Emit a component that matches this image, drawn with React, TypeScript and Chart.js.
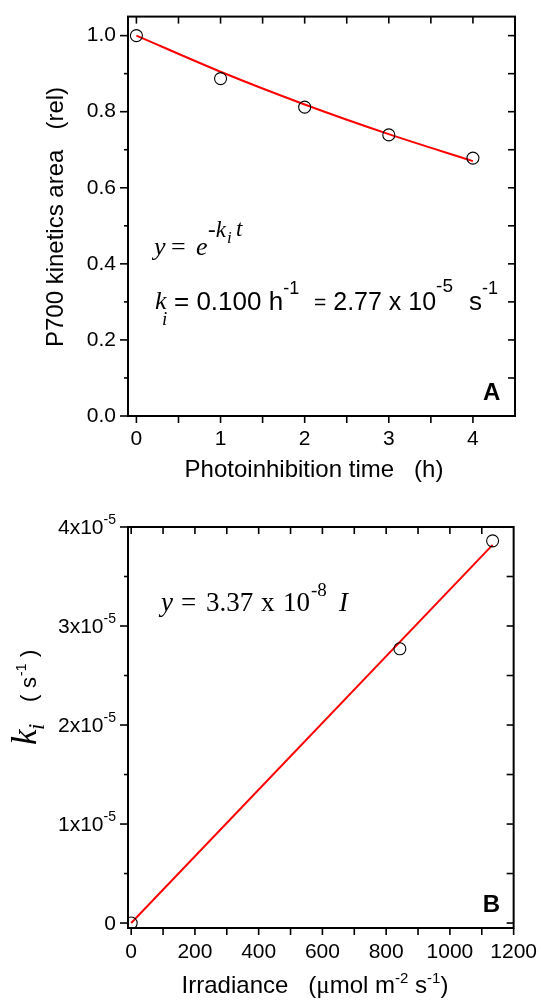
import React, { useEffect, useRef } from "react";
import { Chart, registerables } from "chart.js";

Chart.register(...registerables);

// ---------- Panel A data ----------
const timeHours = [0, 1, 2, 3, 4];
const p700Area = [1.0, 0.887, 0.812, 0.739, 0.678];
const fitTimeHours = [0, 1, 2, 3, 4];
const fitP700Area = [1.0, 0.905, 0.819, 0.741, 0.67];
const timeTicks = [0, 1, 2, 3, 4];
const timeMinorTicks = [0.5, 1.5, 2.5, 3.5];
const timeTopTicks = [0, 0.5, 1, 1.5, 2, 2.5, 3, 3.5, 4];
const areaTicks = [0, 0.2, 0.4, 0.6, 0.8, 1.0];
const areaMinorTicks = [0.1, 0.3, 0.5, 0.7, 0.9];
const areaRightTicks = [0.1, 0.2, 0.3, 0.4, 0.5, 0.6, 0.7, 0.8, 0.9, 1.0];

// ---------- Panel B data ----------
const irradiance = [0, 843, 1134];
const kiValues = [0, 2.77e-5, 3.86e-5];
const fitIrradiance = [0, 1134];
const fitKi = [0, 3.82e-5];
const irradianceTicks = [0, 200, 400, 600, 800, 1000, 1200];
const irradianceMinorTicks = [100, 300, 500, 700, 900, 1100];
const irradianceTopTicks = [0, 100, 200, 300, 400, 500, 600, 700, 800, 900, 1000, 1100];
const kiTicks = [0, 1e-5, 2e-5, 3e-5, 4e-5];
const kiTickMantissas = ["0", "1x10", "2x10", "3x10", "4x10"];
const kiTickExponents = ["", "-5", "-5", "-5", "-5"];
const kiMinorTicks = [0.5e-5, 1.5e-5, 2.5e-5, 3.5e-5];
const kiRightTicks = [0, 0.5e-5, 1e-5, 1.5e-5, 2e-5, 2.5e-5, 3e-5, 3.5e-5];

const SANS = '"Liberation Sans", Arial, sans-serif';
const SERIF = '"Liberation Serif", "Times New Roman", serif';
const sans = (s: number, w = "") => `${w} ${s}px ${SANS}`.trim();
const serif = (s: number, st = "") => `${st} ${s}px ${SERIF}`.trim();

type Seg = { t: string; f: string; x: number; y: number };
type Run = { t: string; f: string; dy: number; gap?: boolean };

function drawSegs(ctx: CanvasRenderingContext2D, segs: Seg[]) {
  ctx.fillStyle = "#000";
  ctx.textAlign = "left";
  ctx.textBaseline = "alphabetic";
  for (const s of segs) {
    ctx.font = s.f;
    ctx.fillText(s.t, s.x, s.y);
  }
}

function runsWidth(ctx: CanvasRenderingContext2D, runs: Run[]) {
  let w = 0;
  for (const r of runs) {
    ctx.font = r.f;
    w += ctx.measureText(r.t).width;
  }
  return w;
}

// draws runs between x0 and x1, spreading leftover room over runs flagged with gap
function drawRuns(ctx: CanvasRenderingContext2D, runs: Run[], x0: number, y: number, x1?: number) {
  ctx.fillStyle = "#000";
  ctx.textAlign = "left";
  ctx.textBaseline = "alphabetic";
  const nat = runsWidth(ctx, runs);
  const gaps = runs.filter((r) => r.gap).length;
  const extra = x1 !== undefined && gaps > 0 ? Math.max(0, (x1 - x0 - nat) / gaps) : 0;
  let cx = x0;
  for (const r of runs) {
    ctx.font = r.f;
    ctx.fillText(r.t, cx, y + r.dy);
    cx += ctx.measureText(r.t).width + (r.gap ? extra : 0);
  }
}

type FrameSpec = {
  xMajor: number[];
  xMinor: number[];
  xTop: number[];
  yMajor: number[];
  yMinor: number[];
  yRight: number[];
};

function drawFrame(chart: any, spec: FrameSpec) {
  const { ctx, chartArea: a, scales } = chart;
  const xs = scales.x;
  const ys = scales.y;
  ctx.save();
  ctx.strokeStyle = "#000";
  ctx.lineWidth = 1.6;
  const line = (x1: number, y1: number, x2: number, y2: number) => {
    ctx.beginPath();
    ctx.moveTo(x1, y1);
    ctx.lineTo(x2, y2);
    ctx.stroke();
  };
  for (const v of spec.xMajor) {
    const p = xs.getPixelForValue(v);
    line(p, a.bottom, p, a.bottom + 7);
  }
  for (const v of spec.xMinor) {
    const p = xs.getPixelForValue(v);
    line(p, a.bottom, p, a.bottom + 7);
  }
  for (const v of spec.xTop) {
    const p = xs.getPixelForValue(v);
    line(p, a.top, p, a.top + 7);
  }
  for (const v of spec.yMajor) {
    const p = ys.getPixelForValue(v);
    line(a.left - 8, p, a.left, p);
  }
  for (const v of spec.yMinor) {
    const p = ys.getPixelForValue(v);
    line(a.left - 4, p, a.left, p);
  }
  for (const v of spec.yRight) {
    const p = ys.getPixelForValue(v);
    line(a.right - 7, p, a.right, p);
  }
  ctx.lineWidth = 2;
  ctx.strokeRect(a.left, a.top, a.right - a.left, a.bottom - a.top);
  ctx.restore();
}

const tickFont = { family: SANS, size: 21 };

function configA(): any {
  return {
    type: "scatter",
    data: {
      datasets: [
        {
          label: "P700 kinetics area",
          data: timeHours.map((x, i) => ({ x, y: p700Area[i] })),
          showLine: false,
          pointRadius: 6,
          pointBorderColor: "#000",
          pointBackgroundColor: "rgba(0,0,0,0)",
          pointBorderWidth: 1.1,
        },
        {
          label: "fit",
          data: fitTimeHours.map((x, i) => ({ x, y: fitP700Area[i] })),
          showLine: true,
          borderColor: "#ff0000",
          borderWidth: 2,
          pointRadius: 0,
          cubicInterpolationMode: "monotone",
          fill: false,
        },
      ],
    },
    options: {
      responsive: false,
      animation: false,
      layout: { padding: { top: 14, right: 26, left: 0, bottom: 0 } },
      plugins: { legend: { display: false }, tooltip: { enabled: false }, title: { display: false } },
      scales: {
        x: {
          type: "linear",
          min: -0.1,
          max: 4.5,
          grid: { display: false },
          border: { display: false },
          afterBuildTicks: (s: any) => {
            s.ticks = timeTicks.map((v) => ({ value: v }));
          },
          afterFit: (s: any) => {
            s.height = 84;
          },
          ticks: { color: "#000", font: tickFont, padding: 3, maxRotation: 0, autoSkip: false, callback: (v: any) => String(v) },
        },
        y: {
          type: "linear",
          min: 0,
          max: 1.05,
          grid: { display: false },
          border: { display: false },
          afterBuildTicks: (s: any) => {
            s.ticks = areaTicks.map((v) => ({ value: v }));
          },
          afterFit: (s: any) => {
            s.width = 128;
          },
          ticks: { color: "#000", font: tickFont, padding: 4, autoSkip: false, callback: (v: any) => Number(v).toFixed(1) },
        },
      },
    },
    plugins: [
      {
        id: "decorA",
        afterDraw(chart: any) {
          drawFrame(chart, {
            xMajor: timeTicks,
            xMinor: timeMinorTicks,
            xTop: timeTopTicks,
            yMajor: areaTicks,
            yMinor: areaMinorTicks,
            yRight: areaRightTicks,
          });
          const ctx: CanvasRenderingContext2D = chart.ctx;
          const a = chart.chartArea;
          ctx.save();
          // x title
          ctx.fillStyle = "#000";
          ctx.font = sans(24);
          ctx.textAlign = "center";
          ctx.textBaseline = "alphabetic";
          ctx.fillText("Photoinhibition time   (h)", 314, 477);
          // y title
          ctx.save();
          ctx.translate(63, 217);
          ctx.rotate(-Math.PI / 2);
          ctx.fillText("P700 kinetics area   (rel)", 0, 0);
          ctx.restore();
          // panel letter
          ctx.font = sans(24, "bold");
          ctx.textAlign = "left";
          ctx.fillText("A", a.right - 32, a.bottom - 16);
          // equation line 1
          drawSegs(ctx, [
            { t: "y", f: serif(26, "italic"), x: 154, y: 255 },
            { t: "=", f: serif(26), x: 171, y: 255 },
            { t: "e", f: serif(26, "italic"), x: 196, y: 255 },
            { t: "-k", f: serif(23, "italic"), x: 208, y: 237 },
            { t: "i", f: serif(17, "italic"), x: 227, y: 243 },
            { t: "t", f: serif(23, "italic"), x: 236, y: 236 },
          ]);
          // equation line 2
          drawSegs(ctx, [
            { t: "k", f: serif(26, "italic"), x: 155, y: 309 },
            { t: "i", f: serif(19, "italic"), x: 162, y: 325 },
          ]);
          const l2: Run[] = [
            { t: "= 0.100 h", f: sans(26), dy: 0 },
            { t: "-1", f: sans(18), dy: -16, gap: true },
            { t: " ", f: sans(22), dy: 0 },
            { t: "=", f: sans(21), dy: -1 },
            { t: " 2.77 x 10", f: sans(25), dy: 0 },
            { t: "-5", f: sans(19), dy: -18, gap: true },
            { t: " s", f: sans(26), dy: 0 },
            { t: "-1", f: sans(18), dy: -16 },
          ];
          drawRuns(ctx, l2, 174, 310, 498);
          ctx.restore();
        },
      },
    ],
  };
}

function configB(): any {
  return {
    type: "scatter",
    data: {
      datasets: [
        {
          label: "ki",
          data: irradiance.map((x, i) => ({ x, y: kiValues[i] })),
          showLine: false,
          pointRadius: 6,
          pointBorderColor: "#000",
          pointBackgroundColor: "rgba(0,0,0,0)",
          pointBorderWidth: 1.1,
        },
        {
          label: "fit",
          data: fitIrradiance.map((x, i) => ({ x, y: fitKi[i] })),
          showLine: true,
          borderColor: "#ff0000",
          borderWidth: 2,
          pointRadius: 0,
          fill: false,
        },
      ],
    },
    options: {
      responsive: false,
      animation: false,
      layout: { padding: { top: 27, right: 26, left: 0, bottom: 0 } },
      plugins: { legend: { display: false }, tooltip: { enabled: false }, title: { display: false } },
      scales: {
        x: {
          type: "linear",
          min: -10,
          max: 1200,
          grid: { display: false },
          border: { display: false },
          afterBuildTicks: (s: any) => {
            s.ticks = irradianceTicks.map((v) => ({ value: v }));
          },
          afterFit: (s: any) => {
            s.height = 73;
          },
          ticks: { color: "#000", font: tickFont, padding: 4, maxRotation: 0, autoSkip: false, callback: (v: any) => String(v) },
        },
        y: {
          type: "linear",
          min: -5e-7,
          max: 4e-5,
          grid: { display: false },
          border: { display: false },
          afterBuildTicks: (s: any) => {
            s.ticks = kiTicks.map((v) => ({ value: v }));
          },
          afterFit: (s: any) => {
            s.width = 128;
          },
          ticks: { display: false },
        },
      },
    },
    plugins: [
      {
        id: "decorB",
        afterDraw(chart: any) {
          drawFrame(chart, {
            xMajor: irradianceTicks,
            xMinor: irradianceMinorTicks,
            xTop: irradianceTopTicks,
            yMajor: kiTicks,
            yMinor: kiMinorTicks,
            yRight: kiRightTicks,
          });
          const ctx: CanvasRenderingContext2D = chart.ctx;
          const a = chart.chartArea;
          const ys = chart.scales.y;
          ctx.save();
          ctx.fillStyle = "#000";
          ctx.textBaseline = "alphabetic";
          // y tick labels with superscripts
          kiTicks.forEach((v, i) => {
            const py = ys.getPixelForValue(v);
            const right = a.left - 12;
            ctx.font = sans(14);
            const ew = kiTickExponents[i] ? ctx.measureText(kiTickExponents[i]).width : 0;
            ctx.font = sans(21);
            ctx.textAlign = "right";
            ctx.fillText(kiTickMantissas[i], right - ew, py + 7);
            if (ew) {
              ctx.font = sans(14);
              ctx.fillText(kiTickExponents[i], right, py - 3);
            }
          });
          ctx.textAlign = "left";
          // x title with superscripts
          const xt: Run[] = [
            { t: "Irradiance   (", f: sans(24), dy: 0 },
            { t: "\u03bc", f: serif(25), dy: 0 },
            { t: "mol m", f: sans(24), dy: 0 },
            { t: "-2", f: sans(15), dy: -10 },
            { t: " s", f: sans(24), dy: 0 },
            { t: "-1", f: sans(15), dy: -10 },
            { t: ")", f: sans(24), dy: 0 },
          ];
          const total = runsWidth(ctx, xt);
          drawRuns(ctx, xt, 315 - total / 2, 493);
          // y title (rotated)
          ctx.save();
          ctx.translate(36, 245);
          ctx.rotate(-Math.PI / 2);
          drawSegs(ctx, [
            { t: "k", f: serif(35, "italic"), x: 0, y: 0 },
            { t: "i", f: serif(23, "italic"), x: 15, y: 8 },
            { t: "(", f: sans(22), x: 43, y: 0 },
            { t: "s", f: sans(22), x: 57, y: 0 },
            { t: "-1", f: sans(14), x: 69, y: -10 },
            { t: ")", f: sans(22), x: 88, y: 0 },
          ]);
          ctx.restore();
          // panel letter
          ctx.font = sans(24, "bold");
          ctx.fillText("B", a.right - 31, a.bottom - 16);
          // equation
          drawSegs(ctx, [
            { t: "y", f: serif(27, "italic"), x: 161, y: 111 },
            { t: "=", f: serif(27), x: 181, y: 111 },
            { t: "3.37", f: serif(27), x: 206, y: 111 },
            { t: "x", f: serif(27), x: 261, y: 111 },
            { t: "10", f: serif(27), x: 283, y: 111 },
            { t: "-8", f: serif(19), x: 311, y: 96 },
            { t: "I", f: serif(27, "italic"), x: 339, y: 111 },
          ]);
          ctx.restore();
        },
      },
    ],
  };
}

export default function App() {
  const refA = useRef<HTMLCanvasElement>(null);
  const refB = useRef<HTMLCanvasElement>(null);
  useEffect(() => {
    const ca = new Chart(refA.current as HTMLCanvasElement, configA());
    const cb = new Chart(refB.current as HTMLCanvasElement, configB());
    return () => {
      ca.destroy();
      cb.destroy();
    };
  }, []);
  return (
    <div style={{ position: "absolute", left: 0, top: 0, width: 541, height: 1001, background: "#fff" }}>
      <canvas ref={refA} width={541} height={500} style={{ position: "absolute", left: 0, top: 0, width: 541, height: 500 }} />
      <canvas ref={refB} width={541} height={501} style={{ position: "absolute", left: 0, top: 500, width: 541, height: 501 }} />
    </div>
  );
}
